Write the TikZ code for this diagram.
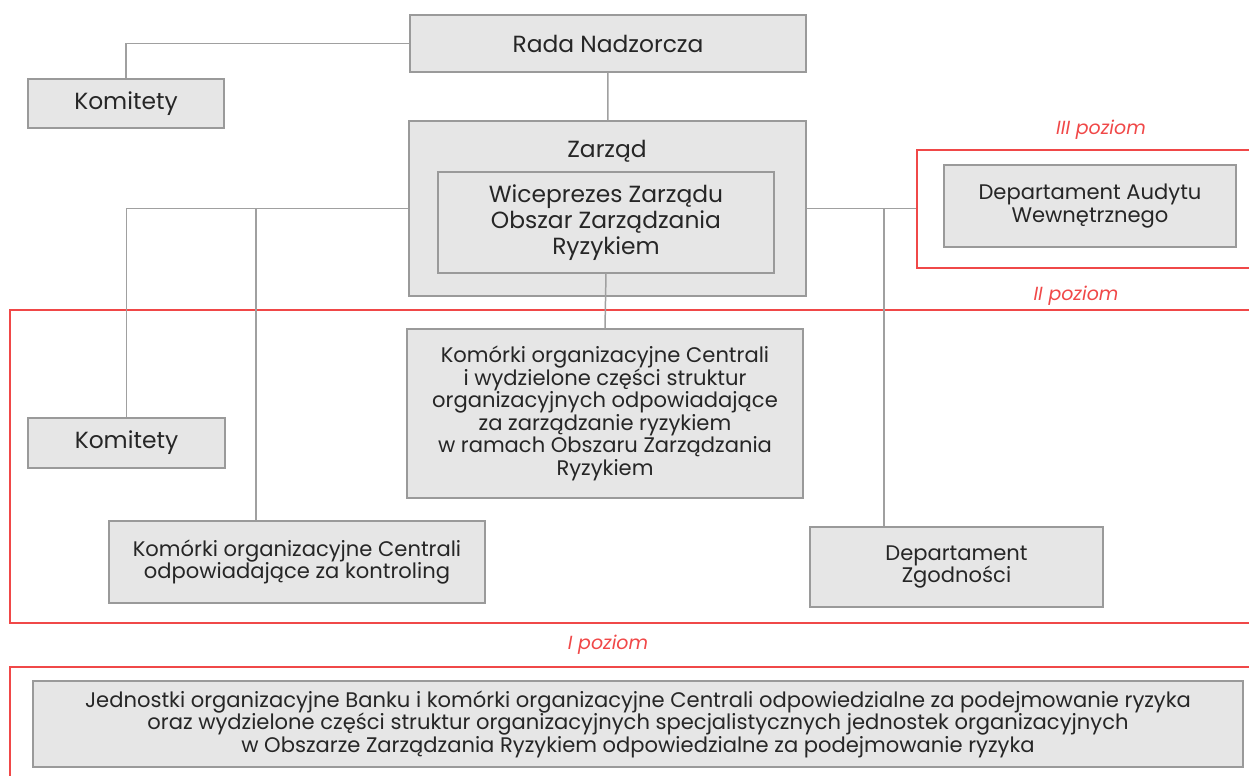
\documentclass[tikz,border=0pt]{standalone}
\usepackage{fontspec}
\setmainfont{Poppins}
\definecolor{boxfill}{HTML}{E6E6E6}
\definecolor{boxline}{HTML}{9A9A9A}
\definecolor{linkgray}{HTML}{A0A0A0}
\definecolor{txtgray}{HTML}{262626}
\definecolor{lvlred}{HTML}{F04848}
\tikzset{
  unit/.style={draw=boxline, fill=boxfill, line width=0.85pt, align=center,
    text=txtgray, inner sep=0pt, font=\fontsize{12}{12.8}\selectfont},
  bigunit/.style={unit, font=\fontsize{13.3}{14.7}\selectfont},
  frame/.style={draw=lvlred, line width=0.85pt, inner sep=0pt},
  lvl/.style={text=lvlred, font=\fontsize{10.8}{12}\selectfont\itshape},
  link/.style={draw=linkgray, line width=0.85pt},
}
\begin{document}
\begin{tikzpicture}[x=0.02cm, y=-0.02cm]
\useasboundingbox (0,0) rectangle (1249,776);
% poziomy
\node (lvlIII) [frame, minimum width=6.7cm, minimum height=2.36cm] at (1084.5,209) {};
\node (lvlII) [frame, minimum width=24.84cm, minimum height=6.26cm] at (631,466.5) {};
\node (lvlI) [frame, minimum width=24.84cm, minimum height=2.26cm] at (631,723.5) {};
\node (lblIII) [lvl] at (1101,130) {III poziom};
\node (lblII) [lvl] at (1076,296) {II poziom};
\node (lblI) [lvl] at (608,645) {I poziom};
% jednostki
\node (rada) [bigunit, minimum width=7.92cm, minimum height=1.14cm] at (608,43.5) {Rada Nadzorcza};
\node (kom1) [bigunit, minimum width=3.92cm, minimum height=0.98cm] at (126,103.5) {Komitety};
\node (zarzad) [bigunit, minimum width=7.94cm, minimum height=3.5cm] at (607.5,208.5) {};
\node (zarzadlbl) [text=txtgray, font=\fontsize{13.3}{14.7}\selectfont] at (607,151) {Zarząd};
\node (wice) [bigunit, minimum width=6.72cm, minimum height=2.02cm] at (606,222.5)
  {Wiceprezes Zarządu\\Obszar Zarządzania\\Ryzykiem};
\node (audyt) [unit, minimum width=5.84cm, minimum height=1.64cm] at (1090,206)
  {Departament Audytu\\Wewnętrznego};
\node (komorki) [unit, minimum width=7.92cm, minimum height=3.38cm] at (605,413.5)
  {Komórki organizacyjne Centrali\\i wydzielone części struktur\\organizacyjnych odpowiadające\\za zarządzanie ryzykiem\\w ramach Obszaru Zarządzania\\Ryzykiem};
\node (kom2) [bigunit, minimum width=3.94cm, minimum height=1cm] at (126.5,443) {Komitety};
\node (kontrol) [unit, minimum width=7.52cm, minimum height=1.64cm] at (297,562)
  {Komórki organizacyjne Centrali\\odpowiadające za kontroling};
\node (zgodn) [unit, minimum width=5.86cm, minimum height=1.6cm] at (956.5,567)
  {Departament\\Zgodności};
\node (jedn) [unit, minimum width=24.2cm, minimum height=1.72cm] at (638,724)
  {Jednostki organizacyjne Banku i komórki organizacyjne Centrali odpowiedzialne za podejmowanie ryzyka\\oraz wydzielone części struktur organizacyjnych specjalistycznych jednostek organizacyjnych\\w Obszarze Zarządzania Ryzykiem odpowiedzialne za podejmowanie ryzyka};
% polaczenia
\coordinate (brL) at (256,208.5);
\coordinate (brR) at (884,208.5);
\path [link] (rada.west) -| (kom1.north);
\path [link] (rada) -- (zarzad);
\path [link] (zarzad.west) -| (kom2.north);
\path [link] (brL) -- (brL |- kontrol.north);
\path [link] (zarzad.east) -- (lvlIII.west |- zarzad.east);
\path [link] (brR) -- (brR |- zgodn.north);
\path [link] (wice.south) -- (komorki.north);
\end{tikzpicture}
\end{document}
